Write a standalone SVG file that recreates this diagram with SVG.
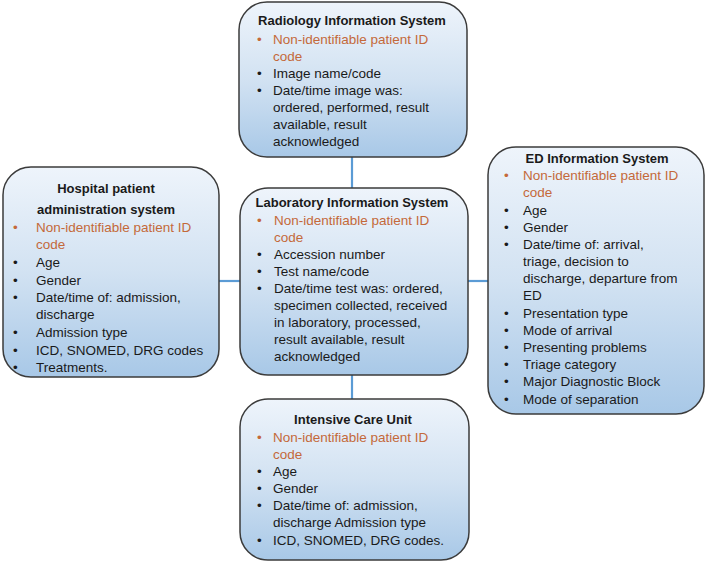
<svg xmlns="http://www.w3.org/2000/svg" width="707" height="563" viewBox="0 0 707 563">
<defs>
<linearGradient id="g" x1="0" y1="0" x2="0" y2="1">
<stop offset="0" stop-color="#eef4fb"/>
<stop offset="0.5" stop-color="#d2e2f2"/>
<stop offset="1" stop-color="#a8c8e7"/>
</linearGradient>
<style>
.box{fill:url(#g);stroke:#3b3b3b;stroke-width:1.5}
text{font-family:"Liberation Sans",Arial,sans-serif;font-size:13.5px;fill:#1a1a1a}
.t{font-weight:bold;font-size:13px;text-anchor:middle}
.o{fill:#c4693a}
.c{stroke:#5b9bd5;stroke-width:2.2;fill:none}
</style>
</defs>
<rect width="707" height="563" fill="#ffffff"/>
<g id="connectors">
<line class="c" x1="352" y1="157" x2="352" y2="188"/>
<line class="c" x1="352" y1="375" x2="352" y2="399"/>
<line class="c" x1="219" y1="281" x2="240" y2="281"/>
<line class="c" x1="468" y1="281" x2="488" y2="281"/>
</g>
<g id="radiology">
<rect class="box" x="239" y="2" width="228" height="155" rx="28"/>
<text class="t" x="352" y="25">Radiology Information System</text>
<text class="o" x="257" y="44">•</text>
<text class="o" x="273" y="44">Non-identifiable patient ID</text>
<text class="o" x="273" y="61">code</text>
<text x="257" y="78">•</text>
<text x="273" y="78">Image name/code</text>
<text x="257" y="95">•</text>
<text x="273" y="95">Date/time image was:</text>
<text x="273" y="112">ordered, performed,  result</text>
<text x="273" y="129">available, result</text>
<text x="273" y="146">acknowledged</text>
</g>
<g id="hospital">
<rect class="box" x="3" y="167" width="216" height="210" rx="28"/>
<text class="t" x="106" y="193">Hospital patient</text>
<text class="t" x="106" y="214">administration system</text>
<text class="o" x="13" y="232">•</text>
<text class="o" x="36" y="232">Non-identifiable patient ID</text>
<text class="o" x="36" y="249">code</text>
<text x="13" y="267">•</text>
<text x="36" y="267">Age</text>
<text x="13" y="285">•</text>
<text x="36" y="285">Gender</text>
<text x="13" y="302">•</text>
<text x="36" y="302">Date/time of: admission,</text>
<text x="36" y="319">discharge</text>
<text x="13" y="337">•</text>
<text x="36" y="337">Admission type</text>
<text x="13" y="355">•</text>
<text x="36" y="355">ICD, SNOMED, DRG codes</text>
<text x="13" y="372">•</text>
<text x="36" y="372">Treatments.</text>
</g>
<g id="laboratory">
<rect class="box" x="240" y="188" width="228" height="187" rx="28"/>
<text class="t" x="352" y="207">Laboratory Information System</text>
<text class="o" x="257" y="225">•</text>
<text class="o" x="274" y="225">Non-identifiable patient ID</text>
<text class="o" x="274" y="242">code</text>
<text x="257" y="259">•</text>
<text x="274" y="259">Accession number</text>
<text x="257" y="276">•</text>
<text x="274" y="276">Test name/code</text>
<text x="257" y="293">•</text>
<text x="274" y="293">Date/time test was: ordered,</text>
<text x="274" y="310">specimen collected, received</text>
<text x="274" y="327">in laboratory, processed,</text>
<text x="274" y="344">result available, result</text>
<text x="274" y="361">acknowledged</text>
</g>
<g id="ed">
<rect class="box" x="488" y="147" width="216" height="267" rx="28"/>
<text class="t" x="597" y="163">ED Information System</text>
<text class="o" x="504" y="180">•</text>
<text class="o" x="523" y="180">Non-identifiable patient ID</text>
<text class="o" x="523" y="197">code</text>
<text x="504" y="215">•</text>
<text x="523" y="215">Age</text>
<text x="504" y="232">•</text>
<text x="523" y="232">Gender</text>
<text x="504" y="249">•</text>
<text x="523" y="249">Date/time of: arrival,</text>
<text x="523" y="266">triage, decision to</text>
<text x="523" y="283">discharge, departure from</text>
<text x="523" y="300">ED</text>
<text x="504" y="318">•</text>
<text x="523" y="318">Presentation type</text>
<text x="504" y="335">•</text>
<text x="523" y="335">Mode of arrival</text>
<text x="504" y="352">•</text>
<text x="523" y="352">Presenting problems</text>
<text x="504" y="369">•</text>
<text x="523" y="369">Triage category</text>
<text x="504" y="386">•</text>
<text x="523" y="386">Major Diagnostic Block</text>
<text x="504" y="404">•</text>
<text x="523" y="404">Mode of separation</text>
</g>
<g id="icu">
<rect class="box" x="240" y="399" width="229" height="161" rx="28"/>
<text class="t" x="353" y="424">Intensive Care Unit</text>
<text class="o" x="257" y="442">•</text>
<text class="o" x="273" y="442">Non-identifiable patient ID</text>
<text class="o" x="273" y="459">code</text>
<text x="257" y="476">•</text>
<text x="273" y="476">Age</text>
<text x="257" y="493">•</text>
<text x="273" y="493">Gender</text>
<text x="257" y="510">•</text>
<text x="273" y="510">Date/time of: admission,</text>
<text x="273" y="527">discharge Admission type</text>
<text x="257" y="545">•</text>
<text x="273" y="545">ICD, SNOMED, DRG codes.</text>
</g>
</svg>
